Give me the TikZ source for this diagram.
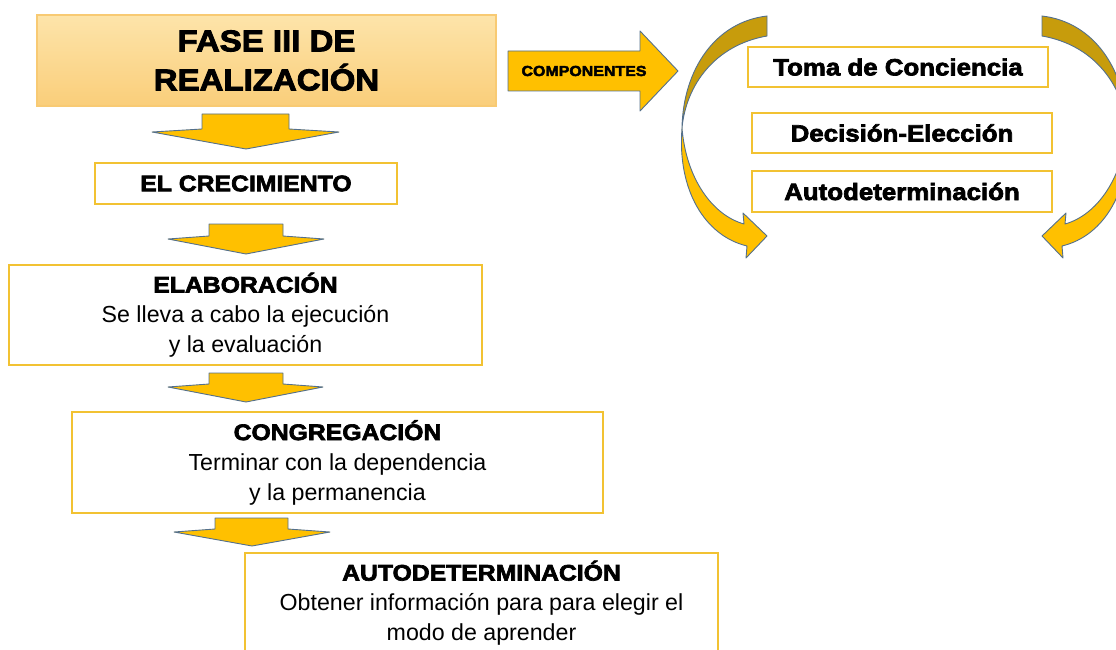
\documentclass[tikz,border=0pt]{standalone}
\usepackage{fontspec}
\setmainfont{Liberation Sans}
\newfontfamily\heavyfont{Liberation Sans}[FakeStretch=1.1,BoldFeatures={FakeBold=3}]

\definecolor{boxgold}{RGB}{242,194,50}
\definecolor{fasetop}{RGB}{253,228,170}
\definecolor{fasebot}{RGB}{250,206,122}
\definecolor{faseedge}{RGB}{248,202,115}
\definecolor{arrowgold}{RGB}{255,192,0}
\definecolor{arrowdark}{RGB}{199,156,12}
\definecolor{arrowedge}{RGB}{84,112,140}

\tikzset{
  box/.style={draw=boxgold, line width=1.4pt, fill=white, align=center, inner sep=0pt},
  bodytext/.style={font=\fontsize{23.2}{30}\selectfont},
  sidetext/.style={font=\heavyfont\bfseries\fontsize{23.5}{28}\selectfont},
  blockarrow/.style={fill=arrowgold, draw=arrowedge, line width=0.9pt, line join=round},
  backpart/.style={fill=arrowdark, draw=arrowedge, line width=0.9pt},
}

% curved arrow beside the components (left one; the right one is its mirror)
\newcommand{\bentarrow}{%
  \draw[backpart] (767,16) .. controls (715,22) and (683,70) .. (682,128)
    .. controls (686,85) and (715,45) .. (767,36) -- cycle;
  \draw[blockarrow] (682,128) .. controls (686,178) and (712,215) .. (744,224)
    -- (743,213) -- (767,236) -- (746,258) -- (747,246)
    .. controls (705,236) and (677,190) .. (682,128) -- cycle;
}

\begin{document}
\begin{tikzpicture}[x=1pt,y=-1pt]
  \useasboundingbox (0,0) rectangle (1116,650);

  % main column
  \node[box, draw=faseedge, top color=fasetop, bottom color=fasebot,
        minimum width=459pt, minimum height=91pt,
        font=\heavyfont\bfseries\fontsize{30}{39}\selectfont] (fase) at (266.5,60.5)
        {FASE III DE\\REALIZACIÓN};
  \node[box, minimum width=302pt, minimum height=41pt,
        font=\heavyfont\bfseries\fontsize{22.5}{28}\selectfont] (crecimiento) at (246,183.5)
        {EL CRECIMIENTO};
  \node[box, bodytext, minimum width=473pt, minimum height=100pt] (elaboracion) at (245.5,315)
        {{\heavyfont\bfseries\fontsize{22.5}{30}\selectfont ELABORACIÓN}\\Se lleva a cabo la ejecución\\y la evaluación};
  \node[box, bodytext, minimum width=531pt, minimum height=101pt] (congregacion) at (337.5,462.5)
        {{\heavyfont\bfseries\fontsize{22.5}{30}\selectfont CONGREGACIÓN}\\Terminar con la dependencia\\y la permanencia};
  \node[box, bodytext, minimum width=473pt, minimum height=100pt] (autodet) at (481.5,603)
        {{\heavyfont\bfseries\fontsize{22.5}{30}\selectfont AUTODETERMINACIÓN}\\Obtener información para para elegir el\\modo de aprender};

  % block arrows down the column
  \foreach \sl/\sr/\st/\wl/\wr/\wy/\tx/\ty in {202/289/114/152/339/132/246/149,
      209/283/224/168/324/239/246/254, 209/283/373/168/323/387/246/402,
      215/288/518/174/330/532/252/546} {
    \draw[blockarrow] (\sl,\st) -- (\sr,\st) -- (\sr,\wy-3) -- (\wr,\wy) -- (\tx,\ty)
      -- (\wl,\wy) -- (\sl,\wy-3) -- cycle;
  }

  % components arrow
  \draw[blockarrow] (508,51) -- (640,51) -- (640,31) -- (678,71) -- (640,111)
    -- (640,91) -- (508,91) -- cycle;
  \node[font=\heavyfont\bfseries\fontsize{14.5}{18}\selectfont] (componentes) at (584,71) {COMPONENTES};

  % the three components
  \node[box, sidetext, minimum width=300pt, minimum height=40pt] (toma) at (898,67) {Toma de Conciencia};
  \node[box, sidetext, minimum width=300pt, minimum height=40pt] (decision) at (902,133) {Decisión-Elección};
  \node[box, sidetext, minimum width=300pt, minimum height=41pt] (autodetc) at (902,191.5) {Autodeterminación};

  % curved arrows round them
  \bentarrow
  \begin{scope}[xshift=1809pt, xscale=-1]
    \bentarrow
  \end{scope}
\end{tikzpicture}
\end{document}
